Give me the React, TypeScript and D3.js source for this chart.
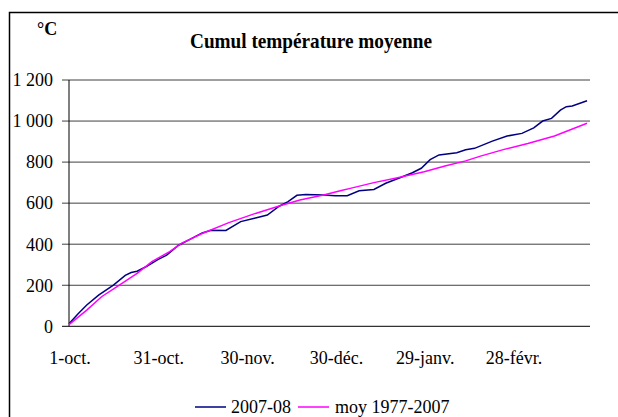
import React from "react";
import * as d3 from "d3";

// days after 1 Oct 2007, cumulative mean temperature (°C)
const seasonDays = [0, 3, 6, 10, 15, 19, 21, 23, 26, 30, 33, 37, 41, 45, 48, 53, 58, 63, 67, 71, 74, 77, 80, 86, 90, 94, 98, 103, 107, 112, 116, 119, 122, 125, 131, 134, 137, 143, 148, 153, 157, 160, 163, 166, 168, 170, 175];
const seasonValues = [12, 60, 104, 152, 201, 248, 262, 268, 290, 325, 347, 395, 425, 455, 468, 467, 510, 528, 542, 585, 607, 638, 642, 640, 636, 636, 660, 667, 697, 725, 748, 770, 812, 835, 846, 860, 867, 902, 927, 940, 967, 1000, 1013, 1053, 1070, 1073, 1099];

const normalDays = [0, 6, 11, 17, 23, 28, 34, 38, 45, 54, 63, 71, 78, 86, 92, 95, 103, 111, 120, 127, 134, 139, 147, 155, 164, 175];
const normalValues = [8, 79, 144, 201, 258, 315, 364, 404, 452, 505, 550, 586, 615, 640, 662, 672, 700, 724, 753, 781, 806, 829, 862, 891, 927, 989];

const tickDays = [0, 30, 60, 90, 120, 150];
const tickLabels = ["1-oct.", "31-oct.", "30-nov.", "30-déc.", "29-janv.", "28-févr."];
const yTicks = [0, 200, 400, 600, 800, 1000, 1200];

const seriesNames = ["2007-08", "moy 1977-2007"];
const seriesColors = ["#000080", "#ff00ff"];

const width = 618;
const height = 417;
const serif = { fontFamily: "'Liberation Serif', 'DejaVu Serif', serif" };

const App = () => {
  const x = d3.scaleLinear().domain([0, 176]).range([69, 590]);
  const y = d3.scaleLinear().domain([0, 1200]).range([326.3, 80]);
  const fmt = (v: number) => d3.format(",")(v).replace(",", " ");

  const line = d3
    .line<[number, number]>()
    .x((d) => x(d[0]))
    .y((d) => y(d[1]));

  const series = [
    seasonDays.map((d, i) => [d, seasonValues[i]] as [number, number]),
    normalDays.map((d, i) => [d, normalValues[i]] as [number, number]),
  ];

  return (
    <svg
      width={width}
      height={height}
      style={{ position: "absolute", left: 0, top: 0, background: "#fff" }}
    >
      <rect x={9.5} y={12.5} width={620} height={420} fill="#fff" stroke="#000" strokeWidth={1.5} />

      <text x={37} y={35} fontSize={18} fontWeight="bold" style={serif}>°C</text>
      <text
        x={311}
        y={48}
        fontSize={22}
        fontWeight="bold"
        textAnchor="middle"
        textLength={242}
        lengthAdjust="spacingAndGlyphs"
        style={serif}
      >
        Cumul température moyenne
      </text>

      {yTicks.map((t) => (
        <g key={t}>
          <line x1={62} x2={590} y1={y(t)} y2={y(t)} stroke={t === 0 ? "#000" : "#404040"} strokeWidth={1} />
          <text x={53} y={y(t)} dy="0.35em" fontSize={18} textAnchor="end" style={serif}>
            {fmt(t)}
          </text>
        </g>
      ))}
      <line x1={x(0)} x2={x(0)} y1={y(1200)} y2={y(0)} stroke="#000" />

      {tickDays.map((d, i) => (
        <text key={d} x={x(d) + 1} y={364} fontSize={18} textAnchor="middle" style={serif}>
          {tickLabels[i]}
        </text>
      ))}

      {series.map((s, i) => (
        <path key={i} d={line(s) || ""} fill="none" stroke={seriesColors[i]} strokeWidth={1.5} />
      ))}

      <g style={serif}>
        <line x1={195} x2={226} y1={407} y2={407} stroke={seriesColors[0]} strokeWidth={1.5} />
        <text x={231} y={413} fontSize={18}>{seriesNames[0]}</text>
        <line x1={298} x2={329} y1={407} y2={407} stroke={seriesColors[1]} strokeWidth={1.5} />
        <text x={335} y={413} fontSize={18}>{seriesNames[1]}</text>
      </g>
    </svg>
  );
};

export default App;
